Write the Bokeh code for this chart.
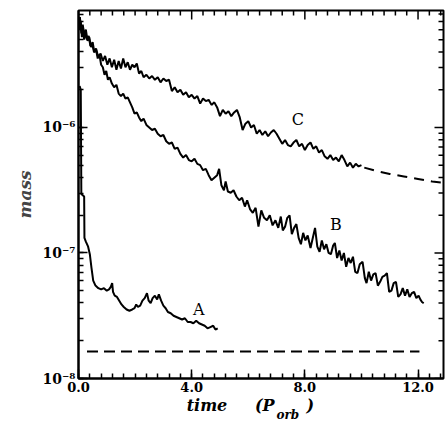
import numpy as np
from bokeh.plotting import figure
from bokeh.models import Range1d, FixedTicker, CustomJSTickFormatter, LinearAxis
from bokeh.core.properties import value
from bokeh.embed import file_html
from bokeh.resources import INLINE

# ---------------- data (time in P_orb, log10 of mass) ----------------
c_time = [0.00, 0.04, 0.08, 0.12, 0.16, 0.20, 0.25, 0.30, 0.36, 0.42, 0.48, 0.55,
          0.62, 0.70, 0.78, 0.86, 0.94, 1.02, 1.10, 1.18, 1.26, 1.34, 1.42, 1.50,
          1.58, 1.66, 1.74, 1.82, 1.90, 1.98, 2.06, 2.14, 2.22, 2.30, 2.40, 2.50,
          2.60, 2.70, 2.80, 2.90, 3.00, 3.10, 3.20, 3.30, 3.40, 3.50, 3.60, 3.70,
          3.80, 3.90, 4.00, 4.10, 4.20, 4.30, 4.40, 4.50, 4.60, 4.70, 4.80, 4.90,
          5.00, 5.10, 5.20, 5.30, 5.40, 5.50, 5.60, 5.70, 5.80, 5.90, 6.00, 6.10,
          6.20, 6.30, 6.40, 6.50, 6.60, 6.70, 6.80, 6.90, 7.00, 7.10, 7.20, 7.30,
          7.40, 7.50, 7.60, 7.70, 7.80, 7.90, 8.00, 8.10, 8.20, 8.30, 8.40, 8.50,
          8.60, 8.70, 8.80, 8.90, 9.00, 9.10, 9.20, 9.30, 9.40, 9.50, 9.60, 9.70,
          9.80, 9.90, 10.00]
c_logmass = [-5.13, -5.22, -5.15, -5.28, -5.20, -5.30, -5.24, -5.30, -5.27, -5.35, -5.33, -5.40,
             -5.37, -5.44, -5.41, -5.47, -5.43, -5.50, -5.45, -5.52, -5.46, -5.54, -5.47, -5.53,
             -5.45, -5.52, -5.48, -5.54, -5.50, -5.52, -5.49, -5.57, -5.55, -5.60, -5.58, -5.61,
             -5.59, -5.62, -5.60, -5.64, -5.61, -5.63, -5.62, -5.71, -5.68, -5.72, -5.70, -5.74,
             -5.72, -5.76, -5.74, -5.77, -5.75, -5.81, -5.77, -5.79, -5.78, -5.82, -5.80, -5.84,
             -5.91, -5.86, -5.89, -5.87, -5.91, -5.88, -5.86, -5.92, -6.02, -5.97, -5.95, -6.00,
             -5.98, -6.05, -6.02, -6.06, -6.03, -6.07, -6.04, -6.02, -6.05, -6.09, -6.13, -6.10,
             -6.14, -6.15, -6.12, -6.10, -6.15, -6.13, -6.18, -6.14, -6.12, -6.17, -6.15, -6.20,
             -6.18, -6.23, -6.25, -6.22, -6.26, -6.24, -6.27, -6.22, -6.26, -6.31, -6.28, -6.32,
             -6.29, -6.31, -6.30]

c_ext_time = [10.10, 10.50, 11.00, 11.50, 12.00, 12.50, 12.90]
c_ext_logmass = [-6.32, -6.345, -6.37, -6.39, -6.41, -6.43, -6.44]

b_time = [0.00, 0.05, 0.10, 0.15, 0.20, 0.26, 0.32, 0.38, 0.44, 0.50, 0.56, 0.62,
          0.68, 0.74, 0.80, 0.86, 0.92, 0.98, 1.04, 1.10, 1.18, 1.26, 1.34, 1.42,
          1.50, 1.58, 1.66, 1.74, 1.82, 1.90, 1.98, 2.06, 2.14, 2.22, 2.30, 2.40,
          2.50, 2.60, 2.70, 2.80, 2.90, 3.00, 3.10, 3.20, 3.30, 3.40, 3.50, 3.60,
          3.70, 3.80, 3.90, 4.00, 4.10, 4.20, 4.30, 4.40, 4.50, 4.60, 4.70, 4.80,
          4.90, 4.97, 5.05, 5.14, 5.20, 5.28, 5.38, 5.48, 5.58, 5.68, 5.78, 5.88,
          5.96, 6.06, 6.16, 6.26, 6.36, 6.46, 6.56, 6.66, 6.76, 6.86, 6.96, 7.06,
          7.15, 7.22, 7.30, 7.38, 7.46, 7.54, 7.62, 7.70, 7.78, 7.86, 7.94, 8.02,
          8.10, 8.20, 8.28, 8.36, 8.44, 8.52, 8.60, 8.68, 8.76, 8.84, 8.92, 9.00,
          9.06, 9.14, 9.22, 9.30, 9.38, 9.46, 9.54, 9.62, 9.70, 9.78, 9.86, 9.94,
          10.04, 10.12, 10.18, 10.26, 10.34, 10.42, 10.50, 10.58, 10.66, 10.74, 10.82, 10.90,
          10.98, 11.06, 11.14, 11.22, 11.30, 11.38, 11.46, 11.54, 11.62, 11.70, 11.78, 11.86,
          11.94, 12.02, 12.08, 12.14, 12.20]
b_logmass = [-5.18, -5.12, -5.25, -5.18, -5.27, -5.22, -5.31, -5.28, -5.36, -5.32, -5.40, -5.38,
             -5.45, -5.42, -5.50, -5.52, -5.58, -5.55, -5.62, -5.60, -5.65, -5.68, -5.66, -5.73,
             -5.75, -5.73, -5.77, -5.76, -5.80, -5.84, -5.89, -5.88, -5.92, -5.95, -5.93, -5.98,
             -6.00, -6.02, -6.01, -6.05, -6.07, -6.06, -6.11, -6.13, -6.12, -6.17, -6.16, -6.21,
             -6.24, -6.22, -6.26, -6.27, -6.25, -6.29, -6.30, -6.34, -6.33, -6.38, -6.42, -6.40,
             -6.38, -6.33, -6.46, -6.50, -6.43, -6.51, -6.52, -6.50, -6.55, -6.58, -6.56, -6.63,
             -6.58, -6.65, -6.68, -6.64, -6.79, -6.66, -6.72, -6.74, -6.70, -6.78, -6.74, -6.80,
             -6.71, -6.82, -6.79, -6.72, -6.70, -6.85, -6.80, -6.77, -6.88, -6.93, -6.84, -6.90,
             -6.86, -6.96, -6.88, -6.80, -6.95, -6.99, -6.90, -6.97, -6.93, -7.00, -7.01, -6.94,
             -6.92, -7.04, -6.98, -7.06, -7.00, -7.11, -7.04, -7.08, -7.03, -7.15, -7.16, -7.09,
             -7.07, -7.20, -7.24, -7.15, -7.22, -7.17, -7.16, -7.26, -7.23, -7.19, -7.18, -7.16,
             -7.31, -7.30, -7.24, -7.23, -7.35, -7.33, -7.28, -7.34, -7.29, -7.35, -7.32, -7.31,
             -7.36, -7.34, -7.37, -7.39, -7.40]

a_time = [0.04, 0.08, 0.10, 0.20, 0.21, 0.26, 0.34, 0.40, 0.46, 0.52, 0.60, 0.70,
          0.80, 0.90, 1.00, 1.08, 1.14, 1.19, 1.22, 1.28, 1.36, 1.44, 1.52, 1.60,
          1.70, 1.80, 1.90, 1.98, 2.04, 2.10, 2.18, 2.26, 2.34, 2.42, 2.48, 2.55,
          2.62, 2.70, 2.78, 2.84, 2.92, 3.00, 3.08, 3.16, 3.26, 3.36, 3.46, 3.56,
          3.66, 3.76, 3.86, 3.96, 4.06, 4.16, 4.26, 4.36, 4.46, 4.56, 4.66, 4.76,
          4.84, 4.92]
a_logmass = [-5.67, -5.70, -6.53, -6.55, -6.88, -6.91, -6.95, -7.01, -7.12, -7.22, -7.26, -7.28,
             -7.29, -7.28, -7.30, -7.29, -7.27, -7.24, -7.31, -7.34, -7.35, -7.38, -7.41, -7.43,
             -7.45, -7.46, -7.45, -7.44, -7.41, -7.43, -7.42, -7.38, -7.36, -7.32, -7.38, -7.40,
             -7.36, -7.34, -7.37, -7.33, -7.38, -7.42, -7.44, -7.47, -7.48, -7.50, -7.51, -7.52,
             -7.53, -7.52, -7.55, -7.55, -7.56, -7.54, -7.56, -7.57, -7.58, -7.60, -7.59, -7.58,
             -7.61, -7.60]

floor_time = [0.30, 12.05]
floor_logmass = [-7.785, -7.785]

curve_names = ["A", "B", "C"]
name_time = [4.25, 9.10, 7.75]
name_logmass = [-7.45, -6.77, -5.94]

x_major = [0, 4, 8, 12]
x_tick_labels = ["0.0", "4.0", "8.0", "12.0"]
y_major = [1e-8, 1e-7, 1e-6]

# x-axis title "time (P_orb)": text pieces and the x (time) where each is centred
title_pieces = ["time", "(P", ")"]
title_pos = [4.54, 6.58, 8.19]
subscript_piece = ["orb"]
subscript_pos = [7.40]

X_MAX = 12.9
Y_MIN, Y_MAX = 1e-8, 8.55e-6

# ---------------- figure ----------------
SERIF = "DejaVu Serif"

p = figure(width=445, height=425,
           x_range=Range1d(0, X_MAX), y_range=Range1d(Y_MIN, Y_MAX),
           y_axis_type="log", output_backend="svg", toolbar_location=None,
           min_border_left=78, min_border_right=2, min_border_top=10,
           min_border_bottom=47)
p.grid.visible = False
p.outline_line_color = "black"
p.outline_line_width = 2
p.background_fill_color = "white"
p.border_fill_color = "white"

x_minor = [round(0.4 * i, 1) for i in range(33)]
y_minor = [k * d for d in y_major + [1e-5] for k in range(1, 10)]
xt = FixedTicker(ticks=x_major, minor_ticks=x_minor)
yt = FixedTicker(ticks=y_major, minor_ticks=y_minor)


def style(ax):
    ax.axis_line_width = 2
    ax.axis_line_color = "black"
    ax.major_tick_in = 9
    ax.major_tick_out = 0
    ax.minor_tick_in = 5
    ax.minor_tick_out = 0
    ax.major_tick_line_width = 1.5
    ax.minor_tick_line_width = 1.5
    ax.major_label_text_font = SERIF
    ax.major_label_text_font_style = "bold"
    ax.major_label_text_font_size = "13px"
    ax.major_label_text_color = "black"
    ax.major_label_standoff = 3


xa = p.xaxis[0]
xa.ticker = xt
xa.major_label_overrides = dict(zip(x_major, x_tick_labels))
style(xa)

ya = p.yaxis[0]
ya.ticker = yt
ya.formatter = CustomJSTickFormatter(code="""
const sup = {'-':'\u207b','0':'\u2070','1':'\u00b9','2':'\u00b2','3':'\u00b3','4':'\u2074',
             '5':'\u2075','6':'\u2076','7':'\u2077','8':'\u2078','9':'\u2079'};
const e = Math.round(Math.log10(tick));
return '10' + String(e).split('').map(c => sup[c]).join('');
""")
style(ya)
ya.major_label_standoff = 3
ya.major_label_text_font_size = "14px"
ya.axis_label = "mass"
ya.axis_label_text_font = SERIF
ya.axis_label_text_font_style = "bold italic"
ya.axis_label_text_font_size = "17px"
ya.axis_label_standoff = 4


def text_axis(pieces, pos, size, standoff):
    ax = LinearAxis(ticker=FixedTicker(ticks=pos, minor_ticks=[]))
    ax.major_label_overrides = dict(zip(pos, pieces))
    ax.axis_line_color = None
    ax.major_tick_line_color = None
    ax.minor_tick_line_color = None
    ax.major_tick_in = 0
    ax.major_tick_out = 0
    ax.major_label_text_font = SERIF
    ax.major_label_text_font_style = "bold italic"
    ax.major_label_text_font_size = size
    ax.major_label_text_color = "black"
    ax.major_label_standoff = standoff
    p.add_layout(ax, "below")


text_axis(title_pieces, title_pos, "16px", 1)
text_axis(subscript_piece, subscript_pos, "12px", -10)

# ticks on the top and right frame edges (half of each dash is clipped away)
top_minor_x = [t for t in x_minor if t not in x_major]
right_minor_y = [v for v in y_minor if v not in y_major and v < Y_MAX]
p.scatter(x_major, [Y_MAX] * len(x_major), marker="dash", angle=np.pi / 2,
          size=18, line_color="black", line_width=1.5)
p.scatter(top_minor_x, [Y_MAX] * len(top_minor_x), marker="dash", angle=np.pi / 2,
          size=10, line_color="black", line_width=1.5)
p.scatter([X_MAX] * len(y_major), y_major, marker="dash",
          size=18, line_color="black", line_width=1.5)
p.scatter([X_MAX] * len(right_minor_y), right_minor_y, marker="dash",
          size=10, line_color="black", line_width=1.5)

lg = lambda v: np.power(10.0, np.array(v))

p.line(c_time, lg(c_logmass), line_color="black", line_width=2)
p.line(c_ext_time, lg(c_ext_logmass), line_color="black", line_width=2,
       line_dash="10 7")
p.line(b_time, lg(b_logmass), line_color="black", line_width=2)
p.line(a_time, lg(a_logmass), line_color="black", line_width=2)
p.line(floor_time, lg(floor_logmass), line_color="black", line_width=2,
       line_dash="11 6")

p.text(name_time, lg(name_logmass), text=curve_names, text_font=value(SERIF),
       text_font_size="16px", text_align="center", text_baseline="middle",
       text_color="black")

open("out.html", "w").write(file_html(p, INLINE))
